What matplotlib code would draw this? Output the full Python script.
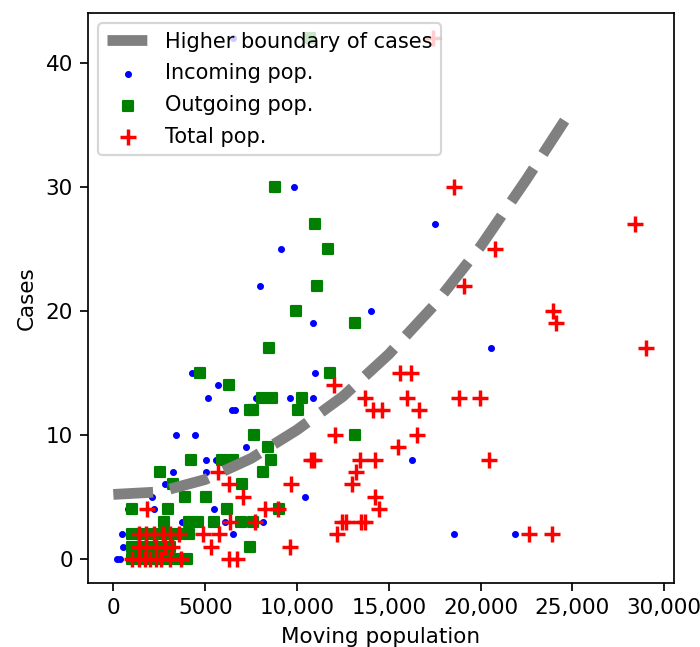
import matplotlib
matplotlib.use("Agg")
import matplotlib.pyplot as plt

# ----- data -----
# higher boundary curve (moving population -> cases)
boundary_x = [0, 2500, 5000, 7500, 10000, 12500, 15000, 17500, 20000, 22500, 25000]
boundary_y = [5.2, 5.4, 6.4, 8.1, 10.4, 13.1, 16.5, 20.5, 25.2, 30.6, 36.3]

# incoming population per region
in_x = [6530, 9820, 17500, 9150, 8010, 14050, 10890, 20560,
        4300, 10990, 5720, 5160, 7760, 9620, 10860, 6450, 6650,
        3420, 4470, 7230, 5050, 5590, 16250, 3240, 5050, 2800,
        2090, 10420, 800, 2230, 5500, 3740, 6080, 8150,
        470, 6540, 18530, 21850, 545, 200, 380]
in_y = [42, 30, 27, 25, 22, 20, 19, 17,
        15, 15, 14, 13, 13, 13, 13, 12, 12,
        10, 10, 9, 8, 8, 8, 7, 7, 6,
        5, 5, 4, 4, 4, 3, 3, 3,
        2, 2, 2, 2, 1, 0, 0]

# outgoing population per region
out_x = [10710, 8800, 10990, 11680, 11110, 9950, 13160, 8490,
         4720, 11800, 6300, 8080, 8630, 10290, 7430, 7610, 10080,
         7680, 13160, 8440, 4250, 5900, 6540, 8590, 2540, 8140,
         3240, 6990, 3900, 5050, 1040, 3000, 6180, 9040,
         2760, 4120, 4610, 5500, 6940, 7610,
         1000, 1500, 2000, 2500, 3000, 3500, 4140,
         1000, 1500, 2100, 2600, 3100, 7450,
         1000, 1500, 2000, 2500, 3000, 3500, 4000]
out_y = [42, 30, 27, 25, 22, 20, 19, 17,
         15, 15, 14, 13, 13, 13, 12, 12, 12,
         10, 10, 9, 8, 8, 8, 8, 7, 7,
         6, 6, 5, 5, 4, 4, 4, 4,
         3, 3, 3, 3, 3, 3,
         2, 2, 2, 2, 2, 2, 2,
         1, 1, 1, 1, 1, 1,
         0, 0, 0, 0, 0, 0, 0]

# total population per region
tot_x = [17430, 18550, 28420, 20760, 19100, 23950, 24100, 29000,
         15620, 16210, 12000, 13720, 15980, 18830, 19970,
         14160, 14620, 16670, 12080, 16560, 15520,
         10750, 10900, 13440, 14250, 20430, 5700, 13210,
         6320, 9650, 12990, 7050, 14250, 1860, 8240, 8990, 14490,
         6360, 7700, 12450, 12650, 13500, 13700,
         1400, 1800, 2200, 2700, 3100, 3600, 4860, 5750, 12200, 22630, 23880,
         1400, 1800, 2300, 2800, 3200, 5300, 9630,
         1000, 1400, 1700, 2000, 2300, 2600, 3100, 3700, 6320, 6720]
tot_y = [42, 30, 27, 25, 22, 20, 19, 17,
         15, 15, 14, 13, 13, 13, 13,
         12, 12, 12, 10, 10, 9,
         8, 8, 8, 8, 8, 7, 7,
         6, 6, 6, 5, 5, 4, 4, 4, 4,
         3, 3, 3, 3, 3, 3,
         2, 2, 2, 2, 2, 2, 2, 2, 2, 2, 2,
         1, 1, 1, 1, 1, 1, 1,
         0, 0, 0, 0, 0, 0, 0, 0, 0, 0]

x_ticks = [0, 5000, 10000, 15000, 20000, 25000, 30000]
x_tick_labels = ["0", "5000", "10,000", "15,000", "20,000", "25,000", "30,000"]
y_ticks = [0, 10, 20, 30, 40]

DPI = 155
fig = plt.figure(figsize=(700 / DPI, 647 / DPI), dpi=DPI)
ax = fig.add_axes([0.1257, 0.0989, 0.8372, 0.881])

ax.plot(boundary_x, boundary_y, color="gray", linestyle="--", linewidth=5,
        label="Higher boundary of cases")
ax.scatter(in_x, in_y, color="b", marker=".", s=20, label="Incoming pop.")
ax.scatter(out_x, out_y, color="g", marker="s", s=20, label="Outgoing pop.")
ax.scatter(tot_x, tot_y, color="r", marker="+", s=60, linewidths=1.6,
           label="Total pop.")

ax.set_xlim(-1380, 30530)
ax.set_ylim(-1.94, 44.0)
ax.set_xticks(x_ticks)
ax.set_xticklabels(x_tick_labels)
ax.set_yticks(y_ticks)
ax.set_xlabel("Moving population")
ax.set_ylabel("Cases")
ax.legend(loc="upper left", fontsize=9.7, labelspacing=0.56)

fig.savefig("out.png", dpi=DPI)
